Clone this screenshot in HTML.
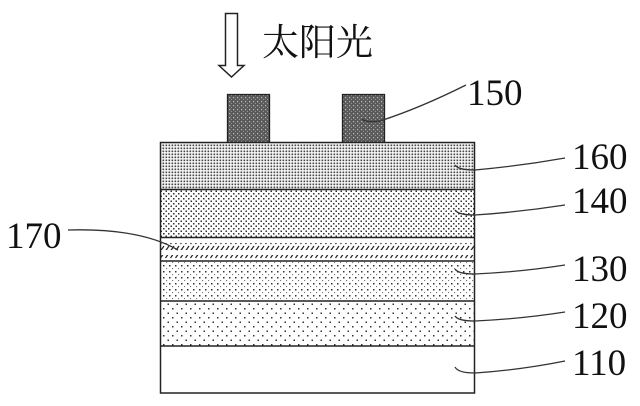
<!DOCTYPE html>
<html><head><meta charset="utf-8"><style>
html,body{margin:0;padding:0;background:#fff;width:640px;height:406px;overflow:hidden}
svg{display:block}
text{font-family:"Liberation Serif","Noto Serif CJK SC",serif;fill:#111}
</style></head><body>
<svg width="640" height="406" viewBox="0 0 640 406" xmlns="http://www.w3.org/2000/svg">
<defs>
<pattern id="p160" width="3" height="3" patternUnits="userSpaceOnUse"><rect width="3" height="3" fill="#fff"/><rect x="0.5" y="0.5" width="1.7" height="1.7" fill="#444"/></pattern>
<pattern id="p140" width="5" height="5" patternUnits="userSpaceOnUse"><rect width="5" height="5" fill="#fff"/><rect x="0.5" y="0.5" width="1.5" height="1.5" fill="#333"/><rect x="3" y="3" width="1.5" height="1.5" fill="#333"/></pattern>
<pattern id="p130" width="6" height="6" patternUnits="userSpaceOnUse"><rect width="6" height="6" fill="#fff"/><rect x="1" y="1" width="1.5" height="1.5" fill="#333"/><rect x="4" y="4" width="1.1" height="1.1" fill="#777"/></pattern>
<pattern id="p120" width="9" height="9" patternUnits="userSpaceOnUse"><rect width="9" height="9" fill="#fff"/><rect x="1" y="2" width="1.5" height="1.5" fill="#333"/><rect x="5.5" y="6.5" width="1.5" height="1.5" fill="#333"/></pattern>
<pattern id="pe" width="4" height="4" patternUnits="userSpaceOnUse"><rect width="4" height="4" fill="#5a5a5a"/><rect x="1" y="1" width="1.2" height="1.2" fill="#bbb"/><rect x="3" y="3" width="1" height="1" fill="#999"/></pattern>
<pattern id="ph" width="5" height="7" patternUnits="userSpaceOnUse"><line x1="0.5" y1="6" x2="4" y2="1" stroke="#222" stroke-width="1.2"/></pattern>
</defs>
<path d="M225.5 13.5 H237.5 V65.5 H244 L231.5 77 L219 65.5 H225.5 Z" fill="#fff" stroke="#222" stroke-width="1.5"/>
<text x="262" y="55" font-size="37">太阳光</text>
<rect x="227.5" y="94.5" width="42" height="48" fill="url(#pe)" stroke="#222" stroke-width="1.3"/>
<rect x="342.5" y="94.5" width="42" height="48" fill="url(#pe)" stroke="#222" stroke-width="1.3"/>
<rect x="160" y="142" width="315" height="47" fill="url(#p160)"/>
<rect x="160" y="189" width="315" height="48" fill="url(#p140)"/>
<rect x="160" y="237" width="315" height="24" fill="#fff"/>
<rect x="160" y="243" width="315" height="7" fill="url(#ph)"/>
<rect x="160" y="255" width="315" height="4" fill="url(#ph)"/>
<rect x="160" y="261" width="315" height="40" fill="url(#p130)"/>
<rect x="160" y="301" width="315" height="45" fill="url(#p120)"/>
<rect x="160" y="346" width="315" height="47" fill="#fff"/>
<g stroke="#222" stroke-width="1.5" fill="none">
<rect x="160.5" y="142.5" width="314" height="250.5"/>
<line x1="160" y1="189.5" x2="475" y2="189.5"/>
<line x1="160" y1="237.5" x2="475" y2="237.5"/>
<line x1="160" y1="261" x2="475" y2="261"/>
<line x1="160" y1="301" x2="475" y2="301"/>
<line x1="160" y1="346" x2="475" y2="346"/>
</g>
<g stroke="#333" stroke-width="1.3" fill="none">
<path d="M362 119 Q366 123 380 121 Q420 108 466 85"/>
<path d="M455 165 Q458 170 475 170 Q520 166 565 158"/>
<path d="M455 210 Q458 215 475 215 Q520 212 565 205"/>
<path d="M455 269 Q458 274 475 274 Q520 272 565 265"/>
<path d="M455 316 Q458 321 475 321 Q520 319 565 312"/>
<path d="M455 367 Q458 373 475 373 Q520 370 565 361"/>
<path d="M68 230 Q140 228 178 250"/>
</g>
<g font-size="37">
<text x="467" y="105">150</text>
<text x="572" y="169">160</text>
<text x="572" y="213">140</text>
<text x="572" y="281">130</text>
<text x="572" y="328">120</text>
<text x="572" y="375">110</text>
<text x="6" y="248">170</text>
</g>
</svg>
</body></html>
